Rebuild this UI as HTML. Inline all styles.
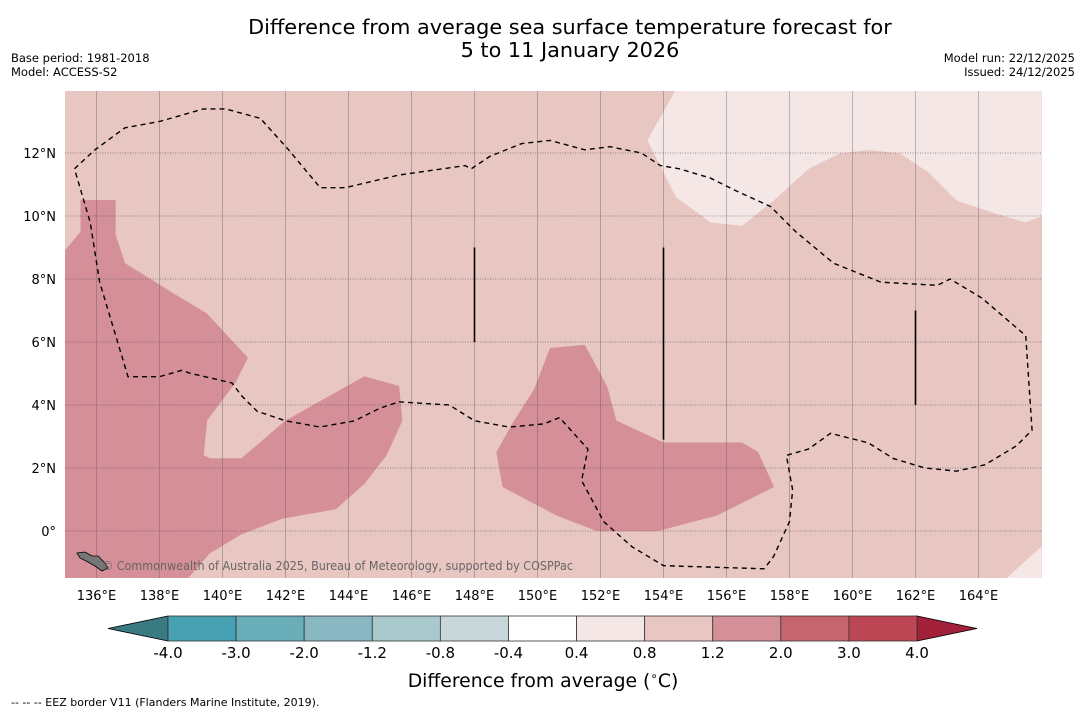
<!DOCTYPE html>
<html><head><meta charset="utf-8"><style>
body{margin:0;background:#fff;width:1085px;height:713px;overflow:hidden;font-family:"DejaVu Sans","Liberation Sans",sans-serif}
</style></head><body>
<svg id="c" width="1085" height="713" xmlns="http://www.w3.org/2000/svg" font-family="DejaVu Sans, Liberation Sans, sans-serif">
<text x="570" y="34" font-size="20.8" text-anchor="middle">Difference from average sea surface temperature forecast for</text>
<text x="570" y="57" font-size="20.8" text-anchor="middle">5 to 11 January 2026</text>
<text x="11" y="62" font-size="11.5">Base period: 1981-2018</text>
<text x="11" y="76" font-size="11.5">Model: ACCESS-S2</text>
<text x="1075" y="62" font-size="11.5" text-anchor="end">Model run: 22/12/2025</text>
<text x="1075" y="76" font-size="11.5" text-anchor="end">Issued: 24/12/2025</text>
<g id="map"></g>
<g id="cbar"></g>
<text x="543" y="687" font-size="18.8" text-anchor="middle">Difference from average (<tspan font-size="12" dy="-7">∘</tspan><tspan dy="7">C)</tspan></text>
<text x="11" y="706" font-size="11">--  --  -- EEZ border V11 (Flanders Marine Institute, 2019).</text>
</svg>
<script>
const lonTicks=[136,138,140,142,144,146,148,150,152,154,156,158,160,162,164];
const latTicks=[12,10,8,6,4,2,0];
const cbBounds=[-4.0,-3.0,-2.0,-1.2,-0.8,-0.4,0.4,0.8,1.2,2.0,3.0,4.0];
const cbColors=["#48a1b2","#6aaeba","#89b8c2","#a9c9cd","#c8d7da","#ffffff","#f5e7e6","#e8c6c2","#d58f98","#c7656f","#bd4655"];
const cbLabels=["-4.0","-3.0","-2.0","-1.2","-0.8","-0.4","0.4","0.8","1.2","2.0","3.0","4.0"];
const regionWarm=[[135,8.9],[135.5,9.5],[135.5,10.5],[136.6,10.5],[136.6,9.4],[136.9,8.5],[138.5,7.5],[139.5,6.9],[140.8,5.5],[140.4,4.7],[139.5,3.5],[139.4,2.4],[139.6,2.3],[140.6,2.3],[142,3.5],[144.5,4.9],[145.6,4.6],[145.7,3.5],[145.2,2.4],[144.5,1.5],[143.6,0.7],[141.9,0.4],[140.6,-0.1],[139.6,-0.7],[138.9,-1.5],[135,-1.5]];
const regionWarm2=[[150.4,5.8],[151.5,5.9],[152.2,4.6],[152.5,3.5],[154,2.8],[156.5,2.8],[157,2.5],[157.5,1.4],[155.7,0.5],[153.8,0],[151.9,0],[150.6,0.5],[148.9,1.4],[148.7,2.5],[149.2,3.4],[149.9,4.5]];
const regionCool=[[154.4,14],[166,14],[166,10],[165.5,9.8],[164.5,10.1],[163.3,10.5],[162.4,11.4],[161.5,12],[160.5,12.1],[159.6,12],[158.6,11.5],[157.5,10.5],[156.5,9.7],[155.5,9.8],[154.4,10.6],[154,11.4],[153.5,12.4],[154,13.3]];
const regionCool2=[[164.9,-1.5],[166,-0.5],[166,-1.5]];
const eez=[[135.3,11.5],[135.95,12.1],[136.9,12.8],[138,13],[139.4,13.4],[140.1,13.4],[141.2,13.1],[142.1,12.1],[143.1,10.9],[143.9,10.9],[145.6,11.3],[147.7,11.6],[147.9,11.5],[148.5,11.9],[149.5,12.3],[150.4,12.4],[151.5,12.1],[152.3,12.2],[153.3,12],[153.9,11.6],[154.5,11.5],[155.5,11.2],[156.3,10.8],[157.4,10.3],[158.2,9.5],[159.4,8.5],[160.9,7.9],[162.7,7.8],[163.1,8],[164.1,7.4],[165.5,6.2],[165.7,3.2],[165.2,2.7],[164.2,2.1],[163.3,1.9],[162.3,2],[161.3,2.3],[160.5,2.8],[159.3,3.1],[158.6,2.6],[157.9,2.4],[158.1,1.3],[158,0.3],[157.5,-0.8],[157.2,-1.2],[154,-1.1],[153,-0.5],[152.1,0.3],[151.4,1.6],[151.6,2.6],[150.7,3.6],[150.2,3.4],[149.1,3.3],[148,3.5],[147.2,4],[145.6,4.1],[145,3.9],[144.2,3.5],[143.1,3.3],[142,3.5],[141.1,3.8],[140.6,4.3],[140.3,4.7],[139,5],[138.7,5.1],[138,4.9],[137,4.9],[136.1,7.9],[135.8,9.8],[135.3,11.5]];
const segLons=[148,154,162];
const segLat1=[9,9,7];
const segLat2=[6,2.9,4];
const X=l=>65+(l-135)*31.5;
const Y=l=>531-l*31.5;
const NS="http://www.w3.org/2000/svg";
function mk(tag,parent,attrs){const e=document.createElementNS(NS,tag);for(const k in attrs)e.setAttribute(k,attrs[k]);parent.appendChild(e);return e;}
const map=document.getElementById('map');
const cp=mk('clipPath',map,{id:'clip'});mk('rect',cp,{x:65,y:91,width:977,height:487});
const g=mk('g',map,{'clip-path':'url(#clip)'});
let r=mk('rect',g,{x:65,y:91,width:977,height:487,fill:"#e8c6c2"});


function poly(pts,fill,name){const p=mk('polygon',g,{points:pts.map(q=>X(q[0])+','+Y(q[1])).join(' '),fill:fill,stroke:fill,'stroke-width':0.5});

}
poly(regionWarm,"#d58f98","warm-region-west");
poly(regionWarm2,"#d58f98","warm-region-central");
poly(regionCool,"#f5e7e6","cool-region-northeast");
poly(regionCool2,"#f5e7e6","cool-region-southeast");
lonTicks.forEach(l=>{const ln=mk('line',g,{x1:X(l),x2:X(l),y1:91,y2:578,stroke:"#555",'stroke-width':0.6,'stroke-opacity':0.6});


const t=mk('text',map,{x:X(l),y:600,'font-size':13,'text-anchor':'middle'});t.textContent=l+'°E';

});
latTicks.forEach(l=>{const ln=mk('line',g,{x1:65,x2:1042,y1:Y(l),y2:Y(l),stroke:"#444",'stroke-width':0.7,'stroke-dasharray':'1,1.5','stroke-opacity':0.7});


const t=mk('text',map,{x:56,y:Y(l)+5,'font-size':13,'text-anchor':'end'});t.textContent=l===0?'0°':l+'°N';

});
const pl=mk('polyline',g,{points:eez.map(q=>X(q[0])+','+Y(q[1])).join(' '),fill:'none',stroke:'#000','stroke-width':1.4,'stroke-dasharray':'5,4'});


segLons.forEach((l,i)=>{const s=mk('line',g,{x1:X(l),x2:X(l),y1:Y(segLat1[i]),y2:Y(segLat2[i]),stroke:'#000','stroke-width':1.6});

});
const isl=mk('polygon',g,{points:"77,553 85,552 92,556 98,556 104,562 108,568 102,571 95,566 88,562 80,558",fill:'#777',stroke:'#000','stroke-width':0.8});


const cr=mk('text',g,{x:102,y:570,'font-size':12,fill:'#666',textLength:471,lengthAdjust:'spacingAndGlyphs'});cr.textContent='© Commonwealth of Australia 2025, Bureau of Meteorology, supported by COSPPac';


const cb=document.getElementById('cbar');
const cx0=168,cx1=917,cy=616,ch=25;
const cw=(cx1-cx0)/(cbColors.length);
let tl=mk('polygon',cb,{points:`108,${cy+ch/2} ${cx0},${cy} ${cx0},${cy+ch}`,fill:'#3a7b82',stroke:'#000','stroke-width':0.8});


let tr=mk('polygon',cb,{points:`977,${cy+ch/2} ${cx1},${cy} ${cx1},${cy+ch}`,fill:'#a3203a',stroke:'#000','stroke-width':0.8});


cbColors.forEach((c,i)=>{const b=mk('rect',cb,{x:cx0+i*cw,y:cy,width:cw,height:ch,fill:c,stroke:'#333','stroke-width':0.8});

});
cbLabels.forEach((t,i)=>{const e=mk('text',cb,{x:cx0+i*cw,y:cy+ch+17,'font-size':15,'text-anchor':'middle'});e.textContent=t;

});
</script>
</body></html>
